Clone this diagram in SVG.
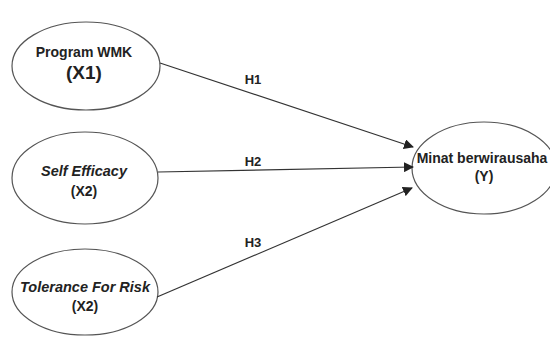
<svg xmlns="http://www.w3.org/2000/svg" width="550" height="338" viewBox="0 0 550 338">
<defs>
<style>
.n{fill:#fff;stroke:#555;stroke-width:1.2}
.t{font-family:"Liberation Sans",Arial,sans-serif;font-weight:bold;font-size:14px;fill:#222;text-anchor:middle}
.i{font-style:italic;font-size:14.5px}
.h{font-size:13px}
.e{stroke:#333;stroke-width:1.2;fill:none;marker-end:url(#a)}
</style>
<marker id="a" viewBox="0 0 10 10" refX="9" refY="5" markerWidth="10" markerHeight="10" markerUnits="userSpaceOnUse" orient="auto"><path d="M0,0L10,5L0,10z" fill="#222"/></marker>
</defs>
<rect width="550" height="338" fill="#fff"/>
<g id="x1"><ellipse class="n" cx="86" cy="66" rx="74" ry="44"/><text class="t" x="84" y="57">Program WMK</text><text class="t" x="84" y="79" style="font-size:19px">(X1)</text></g>
<g id="x2"><ellipse class="n" cx="85" cy="178" rx="73" ry="46"/><text class="t i" x="84" y="176">Self Efficacy</text><text class="t" x="84" y="196">(X2)</text></g>
<g id="x3"><ellipse class="n" cx="85" cy="292" rx="73" ry="43"/><text class="t i" x="85" y="292">Tolerance For Risk</text><text class="t" x="85" y="311">(X2)</text></g>
<g id="y"><ellipse class="n" cx="484" cy="168" rx="72" ry="46"/><text class="t" x="482" y="163">Minat berwirausaha</text><text class="t" x="484" y="181">(Y)</text></g>
<g id="edges">
<line class="e" x1="160" y1="63" x2="413" y2="147"/>
<line class="e" x1="158" y1="172" x2="413" y2="167"/>
<line class="e" x1="157" y1="297" x2="412" y2="188"/>
<text class="t h" x="253" y="84">H1</text>
<text class="t h" x="253" y="166">H2</text>
<text class="t h" x="253" y="247">H3</text>
</g>
</svg>
